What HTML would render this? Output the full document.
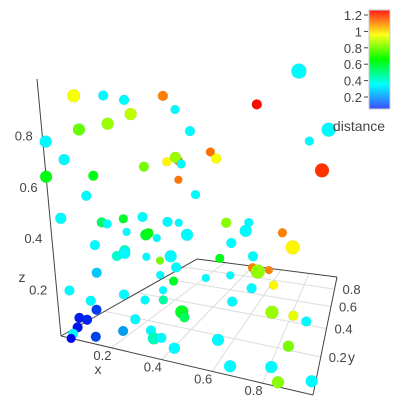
<!DOCTYPE html>
<html><head><meta charset="utf-8"><style>
html,body{margin:0;padding:0;background:#fff;}
svg{display:block;font-family:"Liberation Sans",sans-serif;}
</style></head><body>
<svg id="chart" width="400" height="400" viewBox="0 0 400 400" xmlns="http://www.w3.org/2000/svg">
<defs>
<linearGradient id="cbg" x1="0" y1="0" x2="0" y2="1">
<stop offset="0" stop-color="hsl(0,100%,55%)"/>
<stop offset="0.25" stop-color="hsl(60,100%,55%)"/>
<stop offset="0.5" stop-color="hsl(120,100%,50%)"/>
<stop offset="0.75" stop-color="hsl(180,100%,50%)"/>
<stop offset="1" stop-color="hsl(235,100%,62%)"/>
</linearGradient>
</defs>
<g id="grid"></g>
<g id="axes"></g>
<g id="labels"></g>
<g id="points"></g>
<g id="colorbar">
<rect x="369" y="10" width="21" height="99" fill="url(#cbg)" stroke="#ccc" stroke-width="1"/>
<text x="359" y="131" font-size="14" fill="#444" text-anchor="middle">distance</text>
</g>
</svg>
<script>
const xs = [.12,.22,.29,.42,.46,.31,.23,.13,.01,.51,.07,.00,.17,.47,.46,.43,.35,.48,.47,.14,.53,.04,.19,.21,.27,.34,.43,.47,.28,.35,.36,.39,.50,.16,.27,.24,.27,.35,.44,.40,.16,.46,.40,.45,.05,.41,.26,.41,.34,.13,.48,.49,.15,.08,.11,.07,.05,.04,.30,.14,.25,.36,.37,.40,.45,.57,.66,.62,.62,.67,.67,.74,.74,.74,.76,.66,.88,.80,.82,.82,.90,.95,.89,.83,.86,.99,.86,.73,.97,.91,.96,.58,.60,.64,.72,.71,.84];
const ys = xs.map(()=>0);
const zs = [.98,1.02,1.03,1.10,1.06,.98,.91,.85,.76,.99,.71,.62,.68,.85,.86,.83,.78,.84,.77,.59,.73,.47,.50,.50,.54,.57,.58,.59,.49,.50,.51,.50,.55,.40,.41,.38,.40,.41,.44,.41,.29,.40,.35,.34,.19,.29,.23,.25,.23,.17,.22,.20,.14,.09,.09,.05,.02,.00,.14,.03,.08,.11,.08,.09,.06,.39,.43,.49,.14,.04,.32,.40,.54,.49,.48,.57,.63,.50,.44,.32,.33,.32,.19,.08,.02,.06,1.41,1.20,1.20,1.12,1.01,.93,.91,.65,.68,.64,.68];
const dists = [.95,.36,.36,1.11,.36,.88,.84,.78,.36,.36,.36,.64,.64,1.11,.84,.97,.80,.36,1.12,.36,.36,.36,.55,.36,.62,.36,.36,.36,.36,.62,.64,.36,.36,.36,.43,.42,.36,.36,.36,.80,.30,.36,.36,.62,.36,.36,.36,.48,.36,.36,.62,.56,.14,.10,.11,.09,.36,.07,.36,.15,.26,.36,.44,.36,.36,.36,.36,.64,.36,.36,.36,.36,.36,1.11,.83,.36,.97,1.11,.97,.84,.93,.36,.80,.36,.82,.36,.36,1.25,.36,.36,1.20,1.13,.95,.82,.36,.36,1.11];
const sizes = [6.5,5,5,5,4.5,6,6,6,6,5,5.5,6,5,4.5,5.5,4.5,5,4.5,4,5,4.5,5.5,5,4.5,4.5,5,5,4,4,5.5,5,4,6,5,5.5,5,5.5,4,6,4,5,5,4,4.5,5,4,5,4.5,4.5,5,6.5,5,5,5,5,5,5,4.5,5,5,5,5,6,5,5.5,4,4,4.5,6,6,5,5,5,4.5,7,5,7,4,4.5,6.5,5,5,5.5,6,6,6,7.5,5,7,4.5,7,4.5,5,5,4.5,6,4.5];
const gridTicks = [0.2,0.4,0.6,0.8];
const xTickLabels = ["0.2","0.4","0.6","0.8"];
const zTicks = [0.2,0.4,0.6,0.8];
const zTickLabels = ["0.2","0.4","0.6","0.8"];
const cbTicks = [0.2,0.4,0.6,0.8,1,1.2];
const cbTickLabels = ["0.2","0.4","0.6","0.8","1","1.2"];
const YMAX = 0.966, CMIN = 0.066, CMAX = 1.26;

function yn(y){return 1.881*y/(1+0.846*y);}
function P(x,y,z){
  const u=x, v=yn(y);
  const a=(1-u)*(1-v), b=u*(1-v), c=u*v, d=(1-u)*v;
  const gx=a*61+b*313+c*337+d*197;
  const gy=a*336+b*395+c*277+d*259;
  const s=a*1+b*0.85+c*0.5+d*0.55;
  return [gx+z*s*(-24+48*u), gy-257*s*z];
}
function cbY(v){return 97-(v-0.2)*82;}
function color(dv){
  let t=(dv-CMIN)/(CMAX-CMIN); t=Math.max(0,Math.min(1,t));
  const h=240*(1-t);
  return 'hsl('+h.toFixed(0)+',100%,'+(h>200?47:50)+'%)';
}
const NS='http://www.w3.org/2000/svg';
function mk(tag,parent,attrs){const e=document.createElementNS(NS,tag);for(const k in attrs)e.setAttribute(k,attrs[k]);parent.appendChild(e);return e;}
function line(parent,p,q,stroke,w){return mk('line',parent,{x1:p[0],y1:p[1],x2:q[0],y2:q[1],stroke:stroke,'stroke-width':w});}

const grid=document.getElementById('grid');
gridTicks.forEach(t=>{
  const l1=line(grid,P(t,0,0),P(t,YMAX,0),'#ddd',1);
  
  
  const l2=line(grid,P(0,t,0),P(1,t,0),'#ddd',1);
  
  
});
const axes=document.getElementById('axes');
[[P(0,0,0),P(1,0,0),'x-axis-line'],[P(1,0,0),P(1,YMAX,0),'y-axis-line'],[P(0,YMAX,0),P(1,YMAX,0),'floor-back-edge'],[P(0,0,0),P(0,YMAX,0),'floor-left-edge'],[P(0,0,0),P(0,0,1),'z-axis-line']].forEach(a=>{
  const l=line(axes,a[0],a[1],'#444',1);
  
  
});
const labels=document.getElementById('labels');
function txt(parent,x,y,s,anchor,size){const t=mk('text',parent,{x:x,y:y,'font-size':size||13,fill:'#444','text-anchor':anchor});t.textContent=s;return t;}
gridTicks.forEach((t,i)=>{
  const p=P(t,0,0);
  const e=txt(labels,p[0]-9,p[1]+12,xTickLabels[i],'middle');
  
  
  const q=P(1,t,0);
  const f=txt(labels,q[0]+8,q[1]+5,xTickLabels[i],'start');
  
  
});
zTicks.forEach((t,i)=>{
  const p=P(0,0,t);
  const e=txt(labels,p[0]-9,p[1]+10,zTickLabels[i],'end');
  
  
});
let e;
e=txt(labels,98,374,'x','middle',14);


e=txt(labels,348,362,'y','start',14);


e=txt(labels,22,282,'z','middle',14);



const pts=document.getElementById('points');
xs.forEach((x,i)=>{
  const p=P(x,ys[i],zs[i]);
  const c=mk('circle',pts,{cx:p[0].toFixed(1),cy:p[1].toFixed(1),r:sizes[i],fill:color(dists[i]),stroke:'rgba(0,0,0,0.08)','stroke-width':0.6});
  
  
});
const cb=document.getElementById('colorbar');
cbTicks.forEach((v,i)=>{
  const y=cbY(v);
  const l=line(cb,[364,y],[368,y],'#444',1);
  
  
  const t=txt(cb,362,y+5,cbTickLabels[i],'end',13);
  
  
});
</script>
</body></html>
